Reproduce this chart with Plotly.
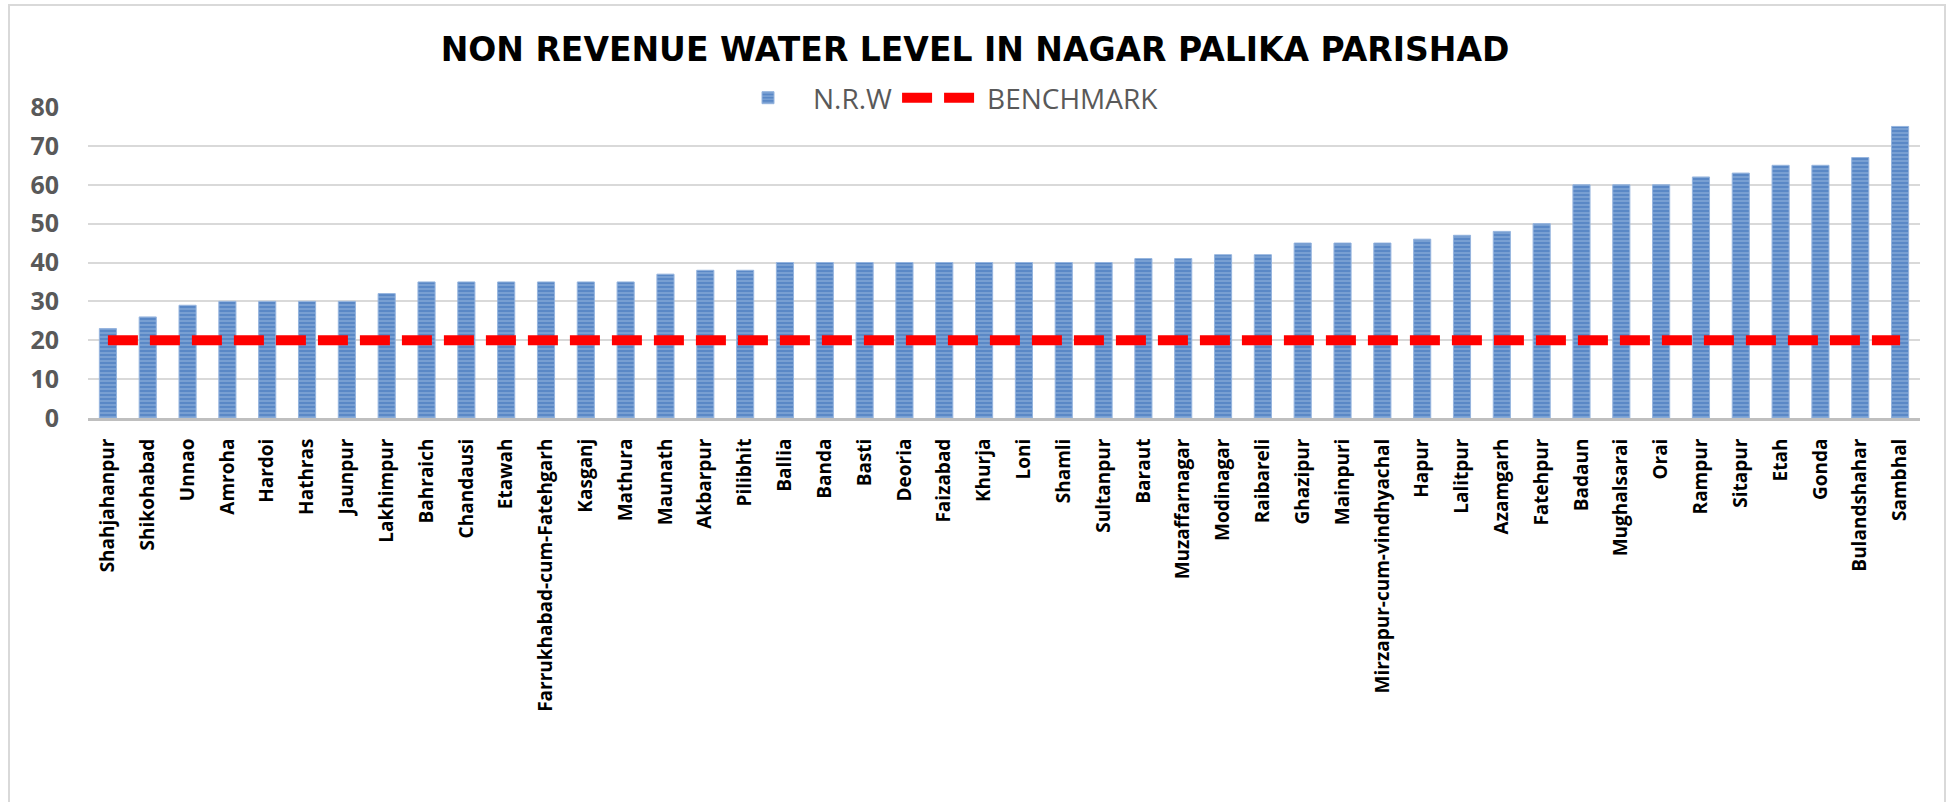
import plotly.graph_objects as go

categories = [
    "Shahjahanpur", "Shikohabad", "Unnao", "Amroha", "Hardoi", "Hathras", "Jaunpur",
    "Lakhimpur", "Bahraich", "Chandausi", "Etawah", "Farrukhabad-cum-Fatehgarh",
    "Kasganj", "Mathura", "Maunath", "Akbarpur", "Pilibhit", "Ballia", "Banda", "Basti",
    "Deoria", "Faizabad", "Khurja", "Loni", "Shamli", "Sultanpur", "Baraut",
    "Muzaffarnagar", "Modinagar", "Raibareli", "Ghazipur", "Mainpuri",
    "Mirzapur-cum-vindhyachal", "Hapur", "Lalitpur", "Azamgarh", "Fatehpur", "Badaun",
    "Mughalsarai", "Orai", "Rampur", "Sitapur", "Etah", "Gonda", "Bulandshahar", "Sambhal",
]
nrw = [
    23, 26, 29, 30, 30, 30, 30,
    32, 35, 35, 35, 35,
    35, 35, 37, 38, 38, 40, 40, 40,
    40, 40, 40, 40, 40, 40, 41,
    41, 42, 42, 45, 45,
    45, 46, 47, 48, 50, 60,
    60, 60, 62, 63, 65, 65, 67, 75,
]
benchmark = [20] * len(categories)
y_ticks = [0, 10, 20, 30, 40, 50, 60, 70, 80]

W, H = 1950, 802
L, R, T, B = 88, 30, 107, 384
pw, ph = W - L - R, H - T - B

def px_x(p):
    return (p - L) / pw

def px_y(p):
    return (H - B - p) / ph

fig = go.Figure()
fig.add_trace(go.Bar(
    x=categories, y=nrw, name="N.R.W",
    marker=dict(
        color="#5A88C6",
        line=dict(color="#95B4DE", width=1),
        pattern=dict(shape="-", fgcolor="#AFC8E8", bgcolor="#5A88C6", size=4, solidity=0.35),
    ),
))
fig.add_trace(go.Scatter(
    x=categories, y=benchmark, name="BENCHMARK", mode="lines",
    line=dict(color="#FF0000", width=10, dash="30px,12px"),
))

fig.update_layout(
    width=W, height=H,
    margin=dict(l=L, r=R, t=T, b=B, autoexpand=False),
    paper_bgcolor="white", plot_bgcolor="white",
    bargap=0.57,
    title=dict(
        text="NON REVENUE WATER LEVEL IN NAGAR PALIKA PARISHAD",
        x=0.5, xanchor="center", y=1 - 49 / H, yanchor="middle",
        font=dict(family="DejaVu Sans", size=33, color="#000000", weight="bold"),
    ),
    legend=dict(
        orientation="h", x=px_x(723), xanchor="left", y=px_y(98), yanchor="middle",
        font=dict(family="Open Sans", size=28, color="#595959"),
        bgcolor="rgba(0,0,0,0)", itemwidth=80, tracegroupgap=0,
    ),
    xaxis=dict(
        type="category", tickangle=-90, showgrid=False,
        showline=True, linecolor="#BFBFBF", linewidth=3,
        ticks="", ticklabelstandoff=10,
        tickfont=dict(family="Open Sans", size=19, color="#000000", weight="bold"),
    ),
    yaxis=dict(
        range=[0, 80], tickvals=y_ticks, showgrid=True, gridcolor="#D9D9D9", gridwidth=2,
        zeroline=False, showline=False, ticks="", ticklabelstandoff=28,
        tickfont=dict(family="Open Sans", size=25, color="#595959", weight="bold"),
    ),
    shapes=[dict(
        type="rect", xref="paper", yref="paper",
        x0=px_x(9), x1=px_x(1945), y0=px_y(815), y1=px_y(5),
        line=dict(color="#D9D9D9", width=2), fillcolor="rgba(0,0,0,0)", layer="below",
    )],
)

fig.write_html(
    "out.html",
    config={"displayModeBar": False},
    post_script="document.body.style.margin='0px';document.body.style.overflow='hidden';",
)
